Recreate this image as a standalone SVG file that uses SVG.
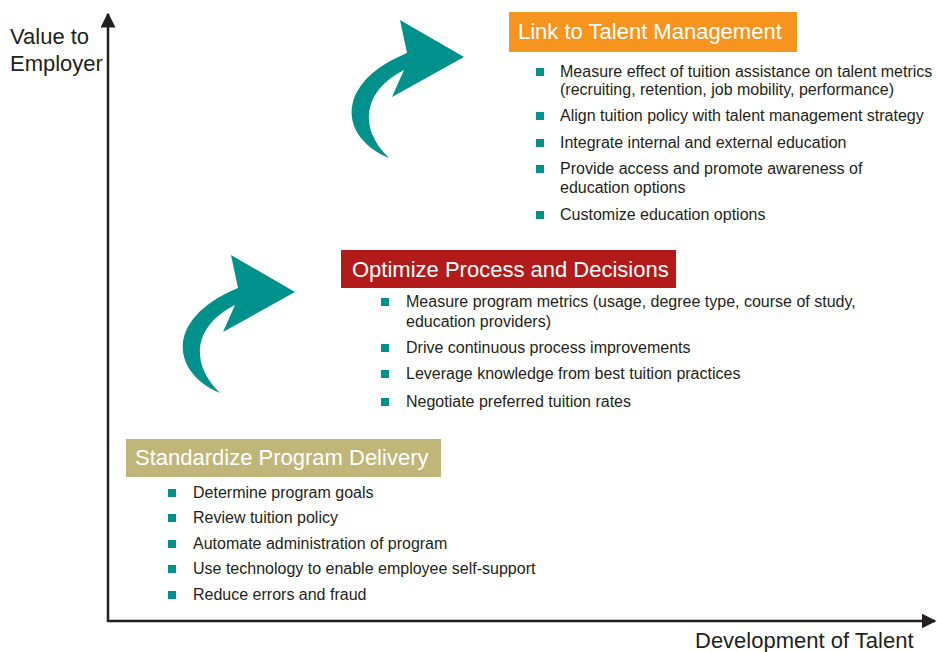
<svg xmlns="http://www.w3.org/2000/svg" xmlns:xlink="http://www.w3.org/1999/xlink" width="937" height="652" viewBox="0 0 937 652">
<style>
text{font-family:"Liberation Sans",Arial,sans-serif;}
.ax{font-size:22px;fill:#231f20;}
.ttl{font-size:22px;fill:#ffffff;}
.b{font-size:16px;fill:#231f20;}
.sq{fill:#00918c;}
.axis{stroke:#231f20;stroke-width:2.5;fill:none;}
</style>
<defs>
<path id="curl" d="M220,393 C170,372 165,318 238,288 L231,255 L295,292 L223,332 L235,305 C195,325 188,362 220,393 Z" fill="#00918c"/>
<marker id="ah" viewBox="0 0 10 10" refX="9" refY="5" markerWidth="6" markerHeight="6" orient="auto" markerUnits="strokeWidth"><path d="M0,0 L10,5 L0,10 Z" fill="#231f20"/></marker>
</defs>
<rect width="937" height="652" fill="#ffffff"/>
<g id="connectors">
<line class="axis" x1="108" y1="622" x2="108" y2="14" marker-end="url(#ah)"/>
<line class="axis" x1="107" y1="621" x2="935" y2="621" marker-end="url(#ah)"/>
<use xlink:href="#curl"/>
<use xlink:href="#curl" transform="translate(169,-235)"/>
</g>
<g id="axis-y-label">
<text class="ax" x="10" y="44">Value to</text>
<text class="ax" x="10" y="71">Employer</text>
</g>
<g id="axis-x-label">
<text class="ax" x="695" y="648">Development of Talent</text>
</g>
<g id="link-to-talent">
<rect x="509" y="12" width="288" height="40" fill="#f7941d"/>
<text class="ttl" x="518" y="39">Link to Talent Management</text>
<rect class="sq" x="536" y="68" width="8" height="8"/>
<text class="b" x="560" y="77">Measure effect of tuition assistance on talent metrics</text>
<text class="b" x="560" y="95">(recruiting, retention, job mobility, performance)</text>
<rect class="sq" x="536" y="112" width="8" height="8"/>
<text class="b" x="560" y="121">Align tuition policy with talent management strategy</text>
<rect class="sq" x="536" y="139" width="8" height="8"/>
<text class="b" x="560" y="148">Integrate internal and external education</text>
<rect class="sq" x="536" y="165" width="8" height="8"/>
<text class="b" x="560" y="174">Provide access and promote awareness of</text>
<text class="b" x="560" y="193">education options</text>
<rect class="sq" x="536" y="211" width="8" height="8"/>
<text class="b" x="560" y="220">Customize education options</text>
</g>
<g id="optimize">
<rect x="341" y="250" width="335" height="38" fill="#b31b1b"/>
<text class="ttl" x="352" y="277">Optimize Process and Decisions</text>
<rect class="sq" x="381" y="298" width="8" height="8"/>
<text class="b" x="406" y="307">Measure program metrics (usage, degree type, course of study,</text>
<text class="b" x="406" y="327">education providers)</text>
<rect class="sq" x="381" y="344" width="8" height="8"/>
<text class="b" x="406" y="353">Drive continuous process improvements</text>
<rect class="sq" x="381" y="370" width="8" height="8"/>
<text class="b" x="406" y="379">Leverage knowledge from best tuition practices</text>
<rect class="sq" x="381" y="398" width="8" height="8"/>
<text class="b" x="406" y="407">Negotiate preferred tuition rates</text>
</g>
<g id="standardize">
<rect x="126" y="439" width="315" height="38" fill="#c0b67a"/>
<text class="ttl" x="135" y="465">Standardize Program Delivery</text>
<rect class="sq" x="168" y="489" width="8" height="8"/>
<text class="b" x="193" y="498">Determine program goals</text>
<rect class="sq" x="168" y="514" width="8" height="8"/>
<text class="b" x="193" y="523">Review tuition policy</text>
<rect class="sq" x="168" y="540" width="8" height="8"/>
<text class="b" x="193" y="549">Automate administration of program</text>
<rect class="sq" x="168" y="565" width="8" height="8"/>
<text class="b" x="193" y="574">Use technology to enable employee self-support</text>
<rect class="sq" x="168" y="591" width="8" height="8"/>
<text class="b" x="193" y="600">Reduce errors and fraud</text>
</g>
</svg>
